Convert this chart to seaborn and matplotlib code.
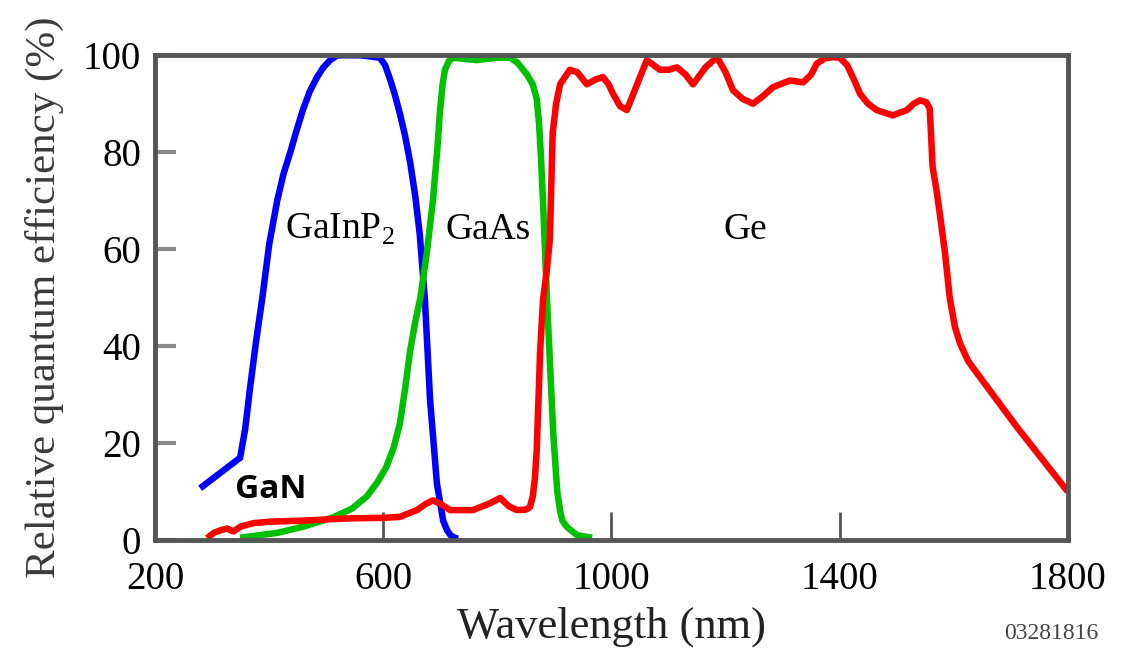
import pandas as pd
import seaborn as sns
import matplotlib.pyplot as plt

# GaInP2 (blue)
gainp_nm = [279, 349, 358, 366, 377, 388, 400, 414, 425, 437, 448, 459, 471, 484, 495, 507, 520, 560, 594, 603, 612,
            620, 629, 638, 647, 656, 664, 673, 682, 694, 705, 712, 718, 725, 731]
gainp_qe = [10.7, 17, 23, 31, 41, 50, 61, 70, 75.5, 80, 84.5, 88.7, 92.5, 95.5, 97.5, 99, 100, 100, 99.5, 98, 95,
            92, 88, 83.5, 78, 71, 63, 49.5, 29, 11.7, 4, 2, 1, 0.5, 0.3]

# GaAs (green)
gaas_nm = [349, 414, 460, 512, 545, 571, 590, 605, 618, 629, 638, 647, 656, 665, 676, 687, 695, 699, 704, 708, 715, 722,
           764, 800, 822, 835, 852, 862, 869, 873, 876, 880, 887, 898, 905, 910, 914, 922, 940, 966]
gaas_qe = [0.5, 1.5, 2.8, 4.7, 6.5, 9, 12, 15, 19, 24, 31, 39, 45, 50, 59, 70, 81, 88, 94, 97, 98.8, 99.5,
           99, 99.5, 99.5, 98.5, 96, 94, 91, 86, 80, 70, 49.5, 22, 10, 6, 4, 2.7, 1, 0.5]

# Ge (red)
ge_nm = [291, 303, 314, 326, 337, 350, 372, 400, 454, 541, 600, 629, 659, 675, 687, 700, 717, 757, 785, 805, 820, 834,
         850, 857, 862, 866, 869, 875, 880, 886, 892, 897, 903, 910, 927, 940, 957, 972, 985, 995, 1003, 1015, 1027,
         1045, 1062, 1085, 1100, 1115, 1130, 1143, 1165, 1185, 1200, 1213, 1230, 1248, 1265, 1283, 1313, 1336, 1350,
         1360, 1375, 1388, 1400, 1413, 1425, 1436, 1450, 1465, 1493, 1518, 1530, 1541, 1552, 1558, 1563, 1570, 1576,
         1585, 1593, 1602, 1611, 1625, 1641, 1711, 1800]
ge_qe = [0.4, 1.5, 2, 2.4, 1.8, 2.8, 3.5, 3.8, 4, 4.5, 4.6, 4.8, 6.2, 7.5, 8.2, 7.5, 6.2, 6.2, 7.5, 8.7, 7, 6.2,
         6.3, 6.8, 9, 13, 18.6, 39, 49.5, 55, 62, 84, 90, 94, 97, 96.5, 94, 95, 95.5, 94, 92, 89.5, 88.7,
         94, 99, 97, 97, 97.5, 96, 94, 97.5, 99.6, 96.5, 92.8, 91, 90, 91.5, 93.4, 94.8, 94.4, 96,
         98.3, 99.4, 99.6, 99.5, 98, 95, 92, 90, 88.7, 87.6, 88.7, 90, 90.7, 90.3, 89, 77, 72, 67,
         59, 50, 44, 40.6, 37, 34.4, 23.3, 10]

sns.set_style("white")
plt.rcParams['font.family'] = ['Liberation Serif', 'DejaVu Serif']
plt.rcParams['mathtext.fontset'] = 'custom'
plt.rcParams['mathtext.rm'] = 'Liberation Serif'
plt.rcParams['text.color'] = 'black'
plt.rcParams['xtick.labelcolor'] = 'black'
plt.rcParams['ytick.labelcolor'] = 'black'

frame = pd.concat([
    pd.DataFrame({'nm': gainp_nm, 'qe': gainp_qe, 'cell': 'GaInP2'}),
    pd.DataFrame({'nm': gaas_nm, 'qe': gaas_qe, 'cell': 'GaAs'}),
    pd.DataFrame({'nm': ge_nm, 'qe': ge_qe, 'cell': 'Ge'}),
])

fig = plt.figure(figsize=(11.24, 6.5), dpi=100)
ax = fig.add_axes([0.138, 0.169, 0.812, 0.746])

sns.lineplot(data=frame, x='nm', y='qe', hue='cell', sort=False, legend=False,
             palette={'GaInP2': '#0000ff', 'GaAs': '#00c000', 'Ge': '#ff0000'},
             linewidth=4.7, solid_joinstyle='round', solid_capstyle='butt', ax=ax)

ax.set_xlim(200, 1800)
ax.set_ylim(0, 100)
ax.set_xticks([200, 600, 1000, 1400, 1800])
ax.set_yticks([0, 20, 40, 60, 80, 100])
ax.tick_params(axis='y', direction='in', length=15, width=3, color='#8a8a8a',
               labelsize=28, pad=10, left=True, labelcolor='black')
ax.tick_params(axis='x', direction='in', length=20, width=2, color='#555555',
               labelsize=28, pad=15, bottom=True, labelcolor='black')
for s in ax.spines.values():
    s.set_visible(True)
    s.set_color('#555555')
    s.set_linewidth(3.5)

ax.set_xlabel('Wavelength (nm)', fontsize=32, color='#222222', labelpad=6)
ax.set_ylabel('Relative quantum efficiency (%)', fontsize=31, color='#3a3a3a', labelpad=14)

ax.text(524, 64, 'GaInP$_2$', fontsize=27, ha='center', va='center', color='black')
ax.text(784, 64, 'GaAs', fontsize=27, ha='center', va='center', color='black')
ax.text(1234, 64, 'Ge', fontsize=27, ha='center', va='center', color='black')
ax.text(403, 10.5, 'GaN', fontsize=24, fontweight='bold', family=['Open Sans', 'DejaVu Sans'],
        ha='center', va='center', color='black')
fig.text(0.977, 0.026, '03281816', fontsize=17, color='#444444', ha='right', va='center')

plt.savefig('out.png', dpi=100)
